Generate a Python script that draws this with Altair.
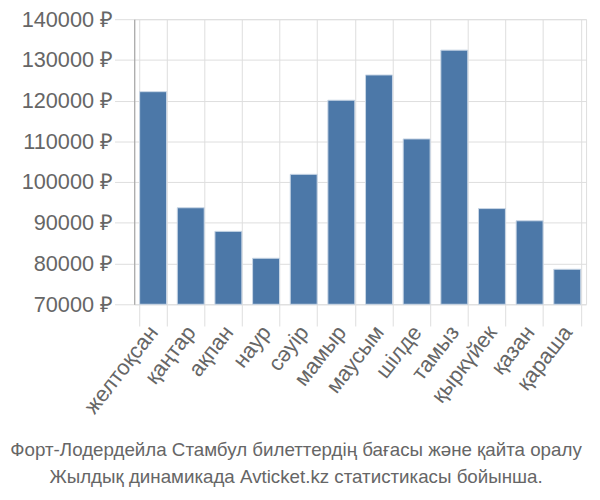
import altair as alt
import pandas as pd

months = ["желтоқсан", "қаңтар", "ақпан", "наур", "сәуір", "мамыр",
          "маусым", "шілде", "тамыз", "қыркүйек", "қазан", "қараша"]
prices = [122200, 93700, 87900, 81300, 101900, 120100,
          126300, 110600, 132400, 93500, 90500, 78600]
y_ticks = [70000, 80000, 90000, 100000, 110000, 120000, 130000, 140000]
title_lines = ["Форт-Лодердейла Стамбул билеттердің бағасы және қайта оралу",
               "Жылдық динамикада Avticket.kz статистикасы бойынша."]

df = pd.DataFrame({"month": months, "price": prices, "base": y_ticks[0]})

chart = alt.Chart(df).mark_bar(color="#4c78a8", stroke="#c9d6e6", strokeWidth=1).encode(
    x=alt.X("month:N", sort=months,
            scale=alt.Scale(paddingInner=0.285, paddingOuter=0.1425),
            axis=alt.Axis(title=None, labelAngle=-52, labelFontSize=22, labelColor="#666666",
                          labelFont="Liberation Sans", tickBand="extent", tickSize=22,
                          tickColor="#dddddd", gridColor="#dddddd", grid=True, domain=False,
                          labelPadding=2)),
    y=alt.Y("price:Q", scale=alt.Scale(domain=[y_ticks[0], y_ticks[-1]], nice=False, zero=False),
            axis=alt.Axis(title=None, values=y_ticks, labelExpr="datum.value + ' ₽'",
                          labelFontSize=22, labelColor="#666666", labelFont="Liberation Sans",
                          tickSize=20, tickColor="#dddddd", gridColor="#dddddd",
                          domainColor="#999999", labelPadding=2)),
    y2="base:Q",
).properties(
    width=458, height=289,
    title=alt.TitleParams(text=title_lines, orient="bottom", anchor="middle", fontSize=19,
                          font="Liberation Sans", color="#666666", fontWeight="normal",
                          lineHeight=28, dx=-65, offset=24),
    autosize=alt.AutoSizeParams(type="none"),
    padding={"left": 128, "top": 8, "right": 6, "bottom": 190},
).configure_view(stroke="#dddddd")

chart.save("out.html", embed_options={"renderer": "svg", "actions": False})
